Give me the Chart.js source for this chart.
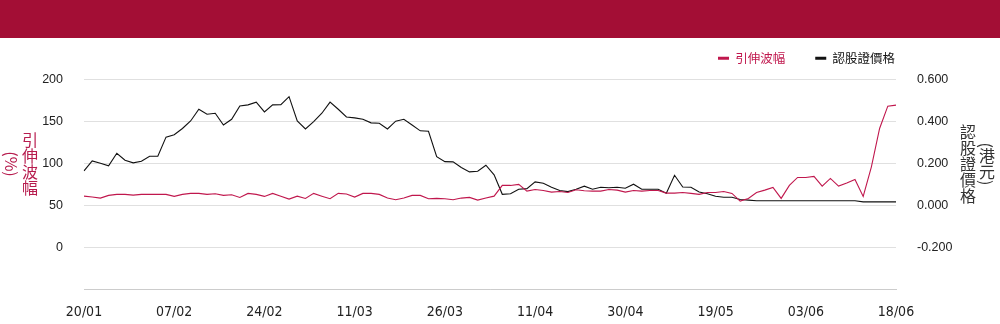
<!DOCTYPE html>
<html>
<head>
<meta charset="utf-8">
<script src="https://cdn.jsdelivr.net/npm/chart.js@4"></script>
<style>
  body { margin: 0; background: #fff; }
  #wrap { position: relative; width: 1000px; height: 324px; overflow: hidden; background: #fff; }
  #head { position: absolute; left: 0; top: 0; width: 1000px; height: 38px; background: #a30e35; }
  #box { position: absolute; left: 0; top: 22px; width: 1000px; height: 302px; }
  .vt {
    position: absolute;
    writing-mode: vertical-rl;
    transform: translate(-50%, -50%);
    font-family: 'Noto Sans CJK TC', sans-serif;
    font-size: 16px;
    line-height: 1;
    white-space: nowrap;
  }
</style>
</head>
<body>
<div id="wrap">
  <div id="head"></div>
  <div id="box"><canvas id="chart"></canvas></div>
  <div class="vt" style="left:30px; top:164px; color:#b71c4e;">引伸波幅</div>
  <div class="vt" style="left:12px; top:164px; color:#b71c4e;">(%)</div>
  <div class="vt" style="left:968px; top:164px; color:#333;">認股證價格</div>
  <div class="vt" style="left:987px; top:164px; color:#333;">(港元)</div>
</div>
<script>
// trading days, 20/01 .. 18/06
const dates = [
  '20/01', '21/01', '22/01', '23/01', '24/01', '27/01', '28/01',
  '03/02', '04/02', '05/02', '06/02', '07/02', '10/02', '11/02', '12/02', '13/02', '14/02',
  '17/02', '18/02', '19/02', '20/02', '21/02', '24/02', '25/02', '26/02', '27/02', '28/02',
  '03/03', '04/03', '05/03', '06/03', '07/03', '10/03', '11/03', '12/03', '13/03', '14/03',
  '17/03', '18/03', '19/03', '20/03', '21/03', '24/03', '25/03', '26/03', '27/03', '28/03', '31/03',
  '01/04', '02/04', '03/04', '07/04', '08/04', '09/04', '10/04', '11/04', '14/04', '15/04',
  '16/04', '17/04', '22/04', '23/04', '24/04', '25/04', '28/04', '29/04', '30/04',
  '02/05', '06/05', '07/05', '08/05', '09/05', '12/05', '13/05', '14/05', '15/05', '16/05',
  '19/05', '20/05', '21/05', '22/05', '23/05', '26/05', '27/05', '28/05', '29/05', '30/05',
  '02/06', '03/06', '04/06', '05/06', '06/06', '09/06', '10/06', '11/06', '12/06', '13/06',
  '16/06', '17/06', '18/06',
];

const tickDates = ['20/01', '07/02', '24/02', '11/03', '26/03', '11/04', '30/04', '19/05', '03/06', '18/06'];

// 引伸波幅 (%)
const impliedVol = [
  60.8, 59.7, 58.5, 61.7, 62.9, 62.9, 62.0, 62.9, 62.9, 62.9,
  62.9, 60.5, 62.9, 64.1, 64.1, 62.9, 63.6, 61.7, 62.5, 59.3,
  64.1, 62.9, 60.5, 64.1, 60.8, 57.3, 60.8, 58.1, 64.1, 60.8,
  57.7, 64.1, 63.3, 59.7, 64.1, 64.1, 62.9, 58.5, 56.5, 58.5,
  61.7, 61.7, 57.7, 58.1, 57.7, 56.5, 58.5, 59.3, 56.1, 58.5,
  60.8, 73.6, 73.6, 74.8, 66.8, 68.8, 67.6, 65.6, 66.4, 65.2,
  68.4, 67.2, 66.8, 66.8, 68.8, 68.0, 65.6, 67.6, 66.8, 67.6,
  67.6, 64.4, 64.4, 65.2, 64.1, 62.9, 65.2, 65.2, 66.4, 64.1,
  54.9, 58.1, 65.2, 68.0, 71.2, 58.1, 73.6, 83.1, 83.1, 84.3,
  72.8, 81.9, 72.8, 76.4, 80.8, 60.5, 95.8, 141.6, 168.2, 169.4,
];

// 認股證價格 (港元)
const warrantPrice = [
  0.164, 0.211, 0.200, 0.188, 0.248, 0.215, 0.202, 0.210, 0.234, 0.234,
  0.325, 0.336, 0.366, 0.402, 0.458, 0.434, 0.439, 0.383, 0.410, 0.474,
  0.479, 0.492, 0.445, 0.479, 0.480, 0.518, 0.402, 0.364, 0.399, 0.439,
  0.492, 0.458, 0.421, 0.417, 0.410, 0.393, 0.391, 0.364, 0.401, 0.410,
  0.383, 0.355, 0.353, 0.232, 0.208, 0.207, 0.180, 0.159, 0.162, 0.191,
  0.145, 0.052, 0.055, 0.076, 0.079, 0.111, 0.105, 0.086, 0.070, 0.065,
  0.076, 0.091, 0.076, 0.086, 0.083, 0.086, 0.081, 0.100, 0.076, 0.076,
  0.076, 0.057, 0.143, 0.087, 0.086, 0.063, 0.055, 0.043, 0.038, 0.038,
  0.027, 0.024, 0.021, 0.021, 0.021, 0.021, 0.021, 0.021, 0.021, 0.021,
  0.021, 0.021, 0.021, 0.021, 0.021, 0.016, 0.016, 0.016, 0.016, 0.016,
];

const volTicks = [-50, 200];
const priceTicks = [-0.4, 0.6];

const RED = '#c0174d';
const BLACK = '#111111';

// fixed legend height, and pull its right edge in to sit above the plot
const legendFit = {
  id: 'legendFit',
  beforeLayout(chart) {
    const lg = chart.legend;
    if (lg && !lg._fixed) {
      const fit = lg.fit;
      lg.fit = function () {
        fit.call(this);
        this.height = 57.5;
      };
      lg._fixed = true;
    }
  },
  afterLayout(chart) {
    const lg = chart.legend;
    if (lg) {
      lg.right = 925;
      lg.width = lg.right - lg.left;
    }
  },
};

const initChart = () => {
  const data = {
    labels: dates,
    datasets: [
      {
        label: '引伸波幅',
        data: impliedVol,
        borderColor: RED,
        backgroundColor: RED,
        borderWidth: 1.1,
        pointRadius: 0,
        tension: 0,
        yAxisID: 'y',
      },
      {
        label: '認股證價格',
        data: warrantPrice,
        borderColor: BLACK,
        backgroundColor: BLACK,
        borderWidth: 1.1,
        pointRadius: 0,
        tension: 0,
        yAxisID: 'y1',
      },
    ],
  };

  const config = {
    type: 'line',
    data: data,
    plugins: [legendFit],
    options: {
      responsive: true,
      maintainAspectRatio: false,
      animation: false,
      layout: {
        padding: 0,
      },
      plugins: {
        tooltip: { enabled: false },
        legend: {
          position: 'top',
          align: 'end',
          labels: {
            boxWidth: 11,
            boxHeight: 3,
            padding: 30,
            font: { family: "'Noto Sans CJK TC', sans-serif", size: 12.5 },
            generateLabels(chart) {
              return Chart.defaults.plugins.legend.labels.generateLabels(chart).map((item) => {
                const c = chart.data.datasets[item.datasetIndex].borderColor;
                return { ...item, fillStyle: c, strokeStyle: c, lineWidth: 0, fontColor: c };
              });
            },
          },
        },
      },
      scales: {
        x: {
          grid: { display: false },
          border: { display: true, color: '#cccccc' },
          afterFit(scale) {
            scale.height = 35;
          },
          ticks: {
            autoSkip: false,
            maxRotation: 0,
            padding: 7,
            color: '#222',
            font: { family: "'Liberation Sans Narrow', 'DejaVu Sans Condensed', sans-serif", size: 14 },
            callback(value, index) {
              const d = dates[index];
              return tickDates.includes(d) ? d : null;
            },
          },
        },
        y: {
          position: 'left',
          min: volTicks[0],
          max: volTicks[1],
          grid: { color: '#e0e0e0', drawTicks: false },
          border: { display: false },
          afterFit(scale) {
            scale.width = 84;
          },
          ticks: {
            stepSize: 50,
            padding: 21,
            color: '#222',
            font: { family: "'Liberation Sans', Arial, sans-serif", size: 12.5 },
            callback(value) {
              return value <= volTicks[0] ? '' : value;
            },
          },
        },
        y1: {
          position: 'right',
          min: priceTicks[0],
          max: priceTicks[1],
          grid: { display: false, drawTicks: false },
          border: { display: false },
          afterFit(scale) {
            scale.width = 104;
          },
          ticks: {
            stepSize: 0.2,
            padding: 21,
            color: '#222',
            font: { family: "'Liberation Sans', Arial, sans-serif", size: 12.5 },
            callback(value) {
              if (value <= priceTicks[0] + 0.01) return '';
              const v = Math.abs(value) < 1e-9 ? 0 : value;
              return v.toFixed(3);
            },
          },
        },
      },
    },
  };

  return new Chart(document.getElementById('chart'), config);
};

const chart = initChart();
</script>
</body>
</html>
